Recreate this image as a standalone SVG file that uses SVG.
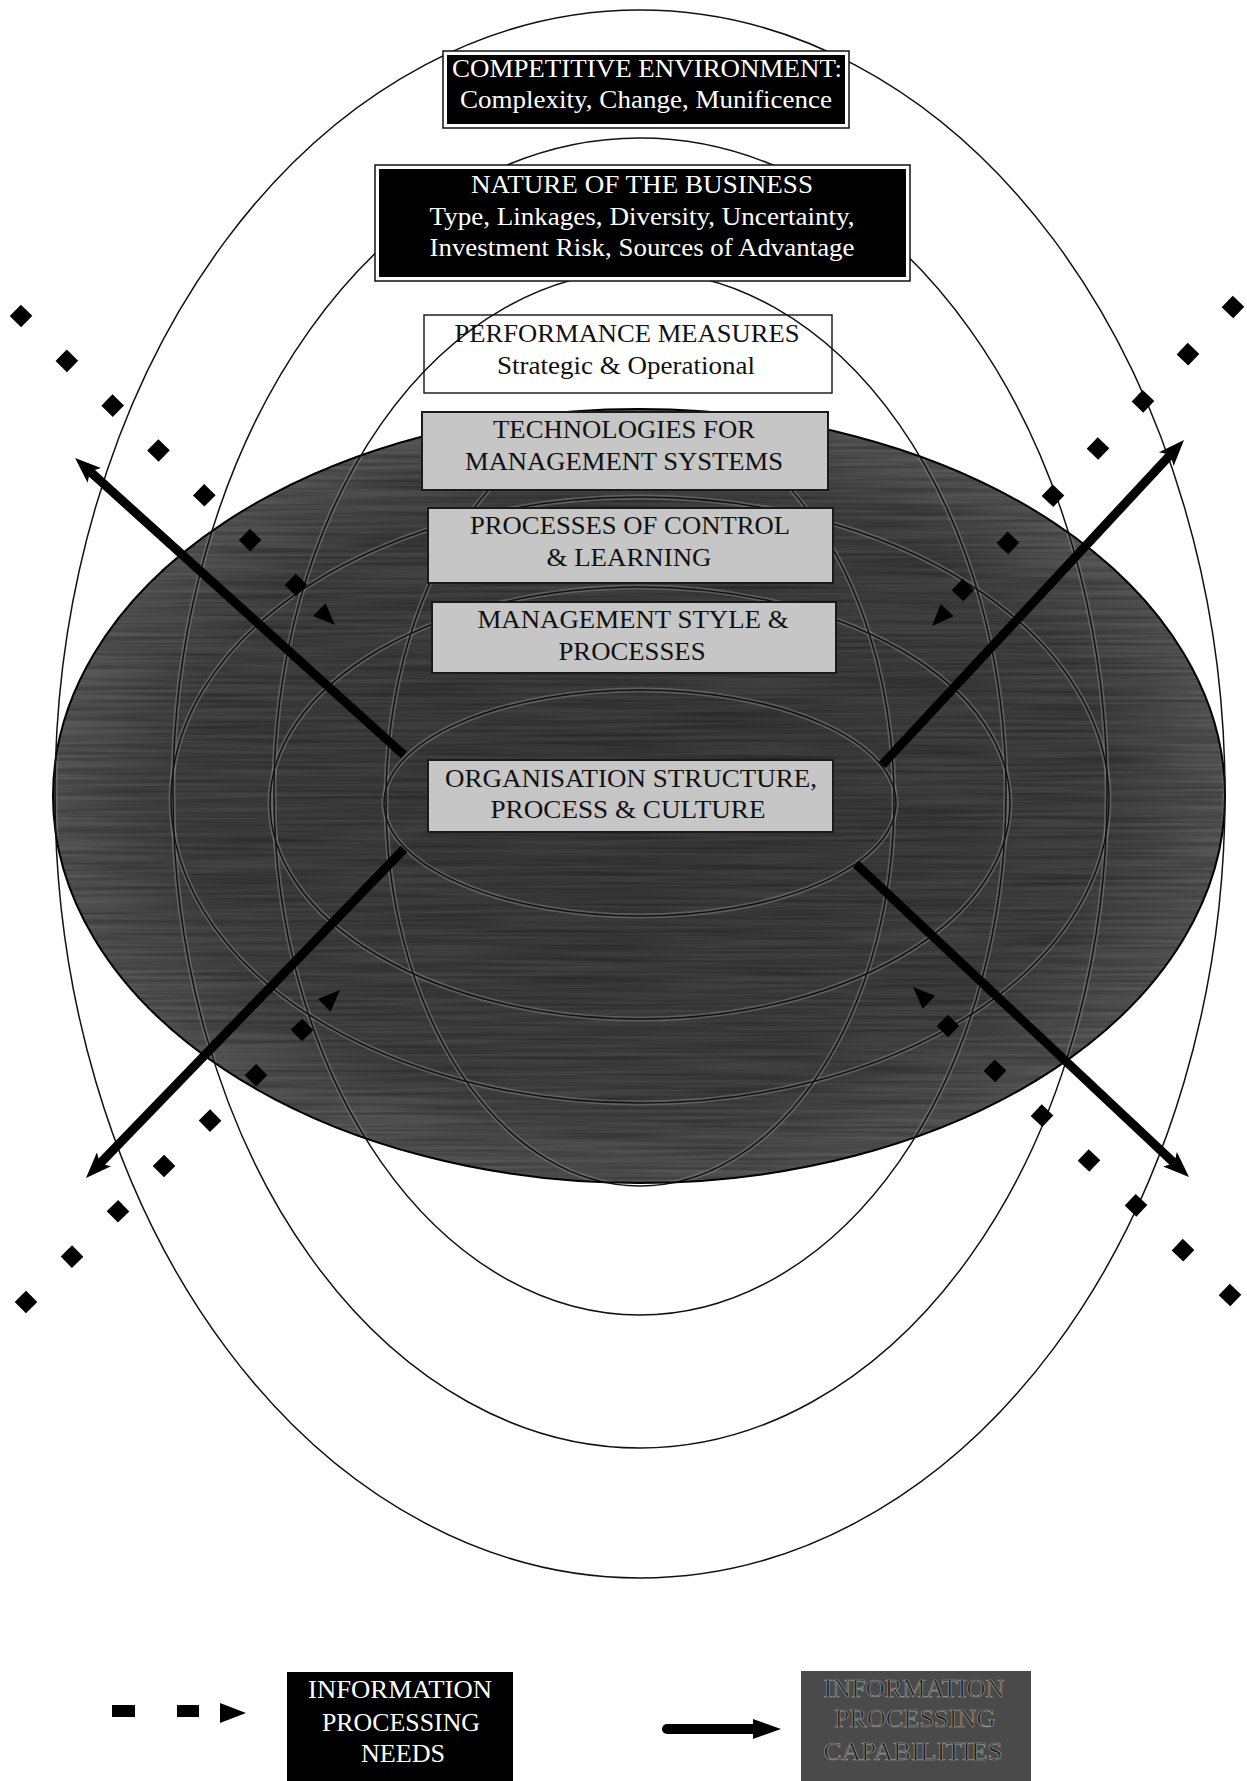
<svg xmlns="http://www.w3.org/2000/svg" width="1247" height="1781" viewBox="0 0 1247 1781">
<style>
.ring{fill:none;stroke:#111;stroke-width:1.5}
.halo{fill:none;stroke:#8a8a8a;stroke-width:5;stroke-opacity:0.45}
.t{font-family:"Liberation Serif","Times New Roman",serif;font-size:26px;text-anchor:middle}
.w{fill:#fff}
.k{fill:#111}
.gbox{fill:#c6c6c6;stroke:#1a1a1a;stroke-width:2}
.shaft{stroke:#000;stroke-width:9;fill:none;marker-end:url(#head)}
.dots{stroke:#000;stroke-width:16;fill:none}
.tri{fill:#000}
</style>
<defs>
<marker id="head" markerUnits="userSpaceOnUse" viewBox="0 0 26 20" refX="6" refY="10" markerWidth="26" markerHeight="20" orient="auto">
<path d="M0,0 L26,10 L0,20 L6,10 Z" fill="#000"/>
</marker>
<radialGradient id="dark" cx="0.5" cy="0.5" r="0.5">
<stop offset="0" stop-color="#3a3a3a"/>
<stop offset="0.8" stop-color="#434343"/>
<stop offset="1" stop-color="#585858"/>
</radialGradient>
<filter id="grain" x="0" y="0" width="100%" height="100%">
<feTurbulence type="fractalNoise" baseFrequency="0.006 0.3" numOctaves="2" seed="7" result="n"/>
<feColorMatrix in="n" type="matrix" values="0 0 0 0 0  0 0 0 0 0  0 0 0 0 0  0 0 0 0.6 -0.18" result="a"/>
<feComposite in="a" in2="SourceGraphic" operator="in"/>
</filter>
<clipPath id="darkclip"><ellipse cx="639" cy="796" rx="586" ry="387"/></clipPath>
</defs>
<rect width="1247" height="1781" fill="#fff"/>

<g id="capability-field">
<ellipse cx="639" cy="796" rx="586" ry="387" fill="url(#dark)"/>
<ellipse cx="639" cy="796" rx="586" ry="387" fill="#000" filter="url(#grain)"/>
<g clip-path="url(#darkclip)">
<ellipse class="halo" cx="640" cy="794" rx="585" ry="784"/>
<ellipse class="halo" cx="640" cy="793" rx="467" ry="655"/>
<ellipse class="halo" cx="640" cy="793" rx="366" ry="522"/>
<ellipse class="halo" cx="640" cy="800" rx="254" ry="386"/>
<ellipse class="halo" cx="640" cy="800" rx="469" ry="303"/>
<ellipse class="halo" cx="640" cy="803" rx="370" ry="216"/>
<ellipse class="halo" cx="640" cy="803" rx="256" ry="113"/>
</g>
<ellipse cx="639" cy="796" rx="586" ry="387" fill="none" stroke="#000" stroke-width="2"/>
</g>

<g id="performance-measures">
<rect x="424" y="315" width="408" height="78" fill="#fff" stroke="#222" stroke-width="1.5"/>
<text class="t k" x="627" y="342" textLength="345" lengthAdjust="spacingAndGlyphs">PERFORMANCE MEASURES</text>
<text class="t k" x="626" y="374" textLength="258" lengthAdjust="spacingAndGlyphs">Strategic &amp; Operational</text>
</g>

<g id="rings">
<ellipse class="ring" cx="640" cy="794" rx="585" ry="784"/>
<ellipse class="ring" cx="640" cy="793" rx="467" ry="655"/>
<ellipse class="ring" cx="640" cy="793" rx="366" ry="522"/>
<ellipse class="ring" cx="640" cy="800" rx="254" ry="386"/>
<ellipse class="ring" cx="640" cy="800" rx="469" ry="303"/>
<ellipse class="ring" cx="640" cy="803" rx="370" ry="216"/>
<ellipse class="ring" cx="640" cy="803" rx="256" ry="113"/>
</g>

<g id="competitive-environment">
<rect x="443" y="51" width="406" height="77" fill="#fff" stroke="#111" stroke-width="1.5"/>
<rect x="447" y="55" width="398" height="69" fill="#000"/>
<text class="t w" x="647" y="77" textLength="390" lengthAdjust="spacingAndGlyphs">COMPETITIVE ENVIRONMENT:</text>
<text class="t w" x="646" y="108" textLength="372" lengthAdjust="spacingAndGlyphs">Complexity, Change, Munificence</text>
</g>

<g id="nature-of-business">
<rect x="375" y="165" width="535" height="116" fill="#fff" stroke="#111" stroke-width="1.5"/>
<rect x="379" y="169" width="527" height="108" fill="#000"/>
<text class="t w" x="642" y="193" textLength="342" lengthAdjust="spacingAndGlyphs">NATURE OF THE BUSINESS</text>
<text class="t w" x="642" y="225" textLength="425" lengthAdjust="spacingAndGlyphs">Type, Linkages, Diversity, Uncertainty,</text>
<text class="t w" x="642" y="256" textLength="425" lengthAdjust="spacingAndGlyphs">Investment Risk, Sources of Advantage</text>
</g>

<g id="technologies">
<rect class="gbox" x="422" y="412" width="406" height="78"/>
<text class="t k" x="624" y="438" textLength="262" lengthAdjust="spacingAndGlyphs">TECHNOLOGIES FOR</text>
<text class="t k" x="624" y="470" textLength="318" lengthAdjust="spacingAndGlyphs">MANAGEMENT SYSTEMS</text>
</g>

<g id="processes-control">
<rect class="gbox" x="428" y="508" width="405" height="75"/>
<text class="t k" x="630" y="534" textLength="320" lengthAdjust="spacingAndGlyphs">PROCESSES OF CONTROL</text>
<text class="t k" x="629" y="566" textLength="165" lengthAdjust="spacingAndGlyphs">&amp; LEARNING</text>
</g>

<g id="management-style">
<rect class="gbox" x="432" y="602" width="404" height="71"/>
<text class="t k" x="633" y="628" textLength="311" lengthAdjust="spacingAndGlyphs">MANAGEMENT STYLE &amp;</text>
<text class="t k" x="632" y="660" textLength="147" lengthAdjust="spacingAndGlyphs">PROCESSES</text>
</g>

<g id="organisation">
<rect class="gbox" x="428" y="760" width="405" height="72"/>
<text class="t k" x="631" y="787" textLength="372" lengthAdjust="spacingAndGlyphs">ORGANISATION STRUCTURE,</text>
<text class="t k" x="628" y="818" textLength="275" lengthAdjust="spacingAndGlyphs">PROCESS &amp; CULTURE</text>
</g>

<g id="connectors">
<line class="shaft" x1="404" y1="755" x2="89.9" y2="471.4"/>
<line class="shaft" x1="882" y1="765" x2="1170.4" y2="454.7"/>
<line class="shaft" x1="404" y1="849" x2="99.9" y2="1163.6"/>
<line class="shaft" x1="856" y1="864" x2="1174.4" y2="1163.3"/>
<path class="dots" d="M15.3,310.4 L301.7,590.6" stroke-dasharray="16 48.1"/>
<path class="dots" d="M1238.5,301.2 L957.5,595.8" stroke-dasharray="16 49.2"/>
<path class="dots" d="M20.3,1307.6 L307.7,1024.4" stroke-dasharray="16 48.6"/>
<path class="dots" d="M1235.8,1300.5 L942.2,1020.5" stroke-dasharray="16 48.95"/>
<polygon class="tri" points="335,625 313,616 325.6,603.2"/>
<polygon class="tri" points="932,626 940.7,603.9 953.7,616.3"/>
<polygon class="tri" points="340,990 330.6,1011.8 318,999"/>
<polygon class="tri" points="913,987 935.1,995.7 922.7,1008.7"/>
</g>

<g id="legend-needs">
<rect x="112" y="1705" width="23" height="12" fill="#000"/>
<rect x="177" y="1705" width="22" height="12" fill="#000"/>
<polygon points="220,1703 246,1713 220,1723" fill="#000"/>
<rect x="287" y="1672" width="226" height="115" fill="#000"/>
<text class="t w" x="400" y="1698" textLength="184" lengthAdjust="spacingAndGlyphs">INFORMATION</text>
<text class="t w" x="401" y="1731" textLength="158" lengthAdjust="spacingAndGlyphs">PROCESSING</text>
<text class="t w" x="403" y="1762" textLength="84" lengthAdjust="spacingAndGlyphs">NEEDS</text>
</g>

<g id="legend-capabilities">
<line x1="667" y1="1729" x2="757" y2="1729" stroke="#000" stroke-width="10" stroke-linecap="round"/>
<polygon points="753,1719 781,1729 753,1739" fill="#000"/>
<rect x="801" y="1671" width="230" height="115" fill="#4a4a4a"/>
<text class="t" x="914" y="1697" textLength="181" lengthAdjust="spacingAndGlyphs" fill="#1a1a1a" stroke="#9a9a9a" stroke-width="0.7">INFORMATION</text>
<text class="t" x="915" y="1727" textLength="161" lengthAdjust="spacingAndGlyphs" fill="#1a1a1a" stroke="#9a9a9a" stroke-width="0.7">PROCESSING</text>
<text class="t" x="913" y="1760" textLength="179" lengthAdjust="spacingAndGlyphs" fill="#1a1a1a" stroke="#9a9a9a" stroke-width="0.7">CAPABILITIES</text>
</g>
</svg>
